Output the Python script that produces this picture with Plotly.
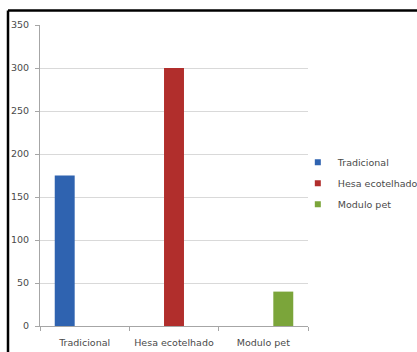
import plotly.graph_objects as go

categories = ["Tradicional", "Hesa ecotelhado", "Modulo pet"]
series_names = ["Tradicional", "Hesa ecotelhado", "Modulo pet"]
tradicional = [175, None, None]
hesa = [None, 300, None]
modulo = [None, None, 40]
colors = ["#2f63b0", "#b12e2c", "#7ba53a"]
y_ticks = [0, 50, 100, 150, 200, 250, 300, 350]

FONT = "DejaVu Sans, sans-serif"
TXT = "#4a4a4a"
fig = go.Figure()
for name, vals, c in zip(series_names, [tradicional, hesa, modulo], colors):
    fig.add_trace(go.Bar(x=categories, y=vals, name=name, marker=dict(color=c, line=dict(width=0)),
                         showlegend=False))
for i, (name, c) in enumerate(zip(series_names, colors)):
    fig.add_trace(go.Scatter(x=[None], y=[None], mode="markers", name=name,
                             marker=dict(symbol="square", size=6, color=c),
                             legendgroup=f"g{i}", showlegend=True))

top_y = (352 - 26 - 10.5) / 301
left_x = -32 / 268
fig.update_layout(
    width=417, height=352,
    margin=dict(l=40, r=109, t=25, b=26, autoexpand=False),
    paper_bgcolor="white", plot_bgcolor="white",
    barmode="group", bargap=0.33, bargroupgap=0,
    font=dict(family=FONT, size=9.5, color=TXT),
    legend=dict(x=0.962, y=0.592, xanchor="left", yanchor="top",
                font=dict(family=FONT, size=9.5, color=TXT),
                tracegroupgap=2, itemwidth=30, bgcolor="rgba(0,0,0,0)"),
    xaxis=dict(type="category", showline=True, linecolor="#a6a6a6", linewidth=1,
               ticks="outside", tickson="boundaries", ticklen=4, tickcolor="#a6a6a6",
               ticklabelstandoff=8,
               showgrid=False, tickfont=dict(family=FONT, size=9.5, color=TXT)),
    yaxis=dict(range=[0, 350], tickvals=y_ticks, showline=True, linecolor="#a6a6a6",
               linewidth=1, ticks="outside", ticklen=4, tickcolor="#a6a6a6",
               ticklabelstandoff=4,
               showgrid=True, gridcolor="#d9d9d9", gridwidth=1, zeroline=False,
               tickfont=dict(family=FONT, size=9.5, color=TXT)),
    shapes=[
        dict(type="line", xref="paper", yref="paper", x0=left_x, x1=1.5, y0=top_y, y1=top_y,
             line=dict(color="black", width=2.5)),
        dict(type="line", xref="paper", yref="paper", x0=left_x, x1=left_x, y0=-0.2, y1=top_y,
             line=dict(color="black", width=2.5)),
    ],
)
fig.write_html("out.html")
